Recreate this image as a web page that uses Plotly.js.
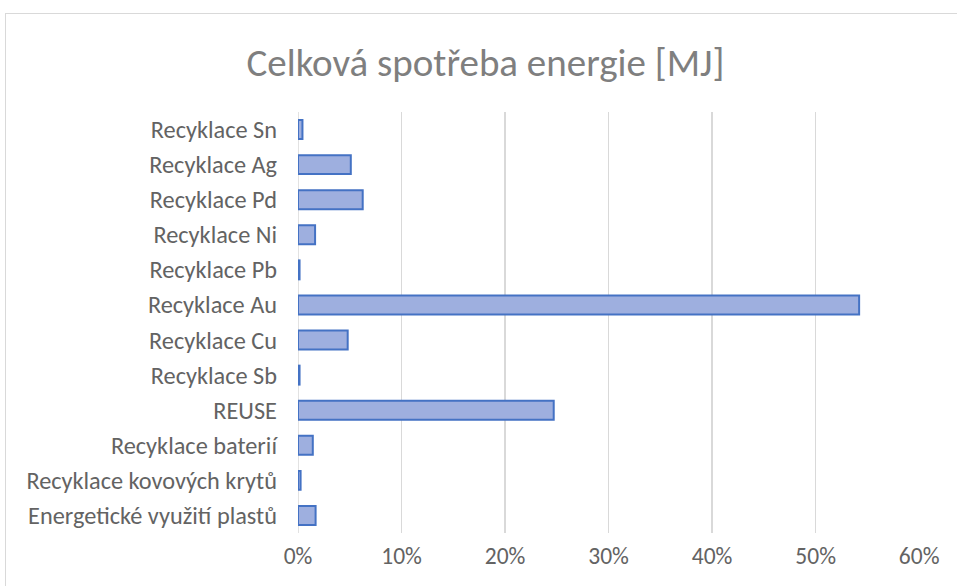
<!DOCTYPE html>
<html>
<head>
<meta charset="utf-8">
<script src="https://cdn.plot.ly/plotly-3.0.1.min.js"></script>
<style>
html,body{margin:0;padding:0;background:#fff;}
#frame{position:absolute;left:5px;top:13px;width:1000px;height:700px;border:1px solid #d9d9d9;pointer-events:none;}
#chart{position:absolute;left:0;top:0;width:957px;height:586px;}
</style>
</head>
<body>
<div id="chart"></div>
<div id="frame"></div>
<script>
const categories = [
  "Recyklace Sn",
  "Recyklace Ag",
  "Recyklace Pd",
  "Recyklace Ni",
  "Recyklace Pb",
  "Recyklace Au",
  "Recyklace Cu",
  "Recyklace Sb",
  "REUSE",
  "Recyklace baterií",
  "Recyklace kovových krytů",
  "Energetické využití plastů"
];
const shares = [0.0043, 0.051, 0.0625, 0.0165, 0.0015, 0.542, 0.048, 0.0015, 0.247, 0.0143, 0.0025, 0.017];
const tickValues = [0, 0.1, 0.2, 0.3, 0.4, 0.5, 0.6];
const tickLabels = ["0%", "10%", "20%", "30%", "40%", "50%", "60%"];

const fontFam = "Carlito, Calibri, 'Open Sans', sans-serif";

Plotly.newPlot("chart", [{
  type: "bar",
  orientation: "h",
  y: categories,
  x: shares,
  width: 0.54,
  marker: {color: "#9eafdf", line: {color: "#4472c4", width: 2}},
  hoverinfo: "x+y"
}], {
  width: 957,
  height: 586,
  margin: {l: 297.5, r: 37, t: 111.5, b: 53.4, pad: 0},
  paper_bgcolor: "rgba(0,0,0,0)",
  plot_bgcolor: "#fff",
  showlegend: false,
  title: {
    text: "Celková spotřeba energie [MJ]",
    x: 485.5 / 957, xref: "container", xanchor: "center",
    y: 1 - 62 / 586, yref: "container", yanchor: "middle",
    font: {family: fontFam, size: 39, color: "#7f7f7f"}
  },
  xaxis: {
    range: [0, 0.6008],
    tickvals: tickValues,
    ticktext: tickLabels,
    showgrid: true,
    gridcolor: "#d9d9d9",
    gridwidth: 1.5,
    zeroline: false,
    showline: false,
    ticks: "",
    ticklabelstandoff: 6,
    tickfont: {family: fontFam, size: 23.5, color: "#636363"},
    fixedrange: true
  },
  yaxis: {
    type: "category",
    autorange: "reversed",
    showgrid: false,
    zeroline: false,
    showline: false,
    ticks: "",
    ticklabelstandoff: 20,
    tickfont: {family: fontFam, size: 24.3, color: "#636363"},
    fixedrange: true
  },
  shapes: [{
    type: "line", xref: "x", yref: "paper",
    x0: 0, x1: 0, y0: 0, y1: 1,
    line: {color: "#d9d9d9", width: 1.5},
    layer: "below"
  }]
}, {displayModeBar: false, staticPlot: true});
</script>
</body>
</html>
